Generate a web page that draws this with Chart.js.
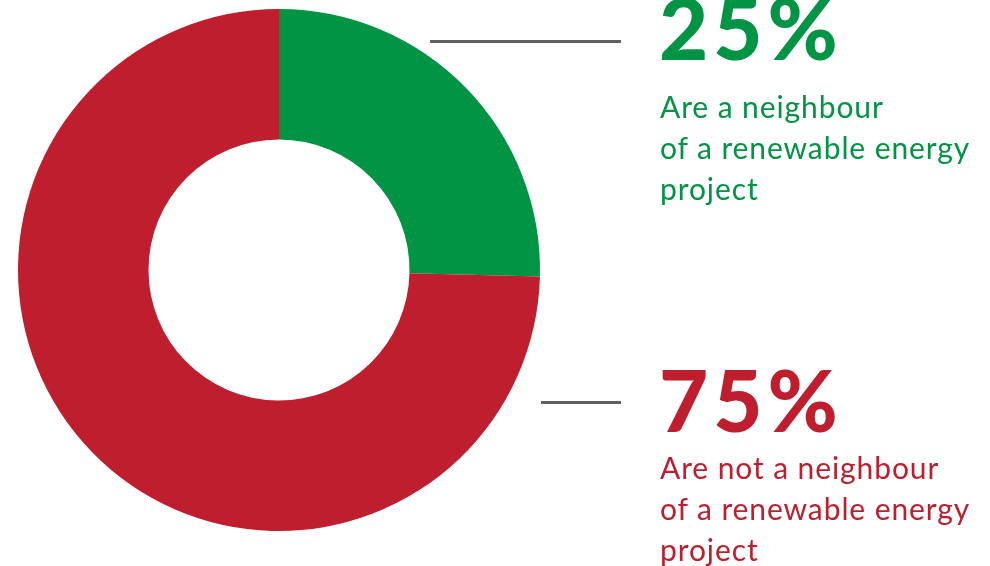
<!DOCTYPE html>
<html>
<head>
<meta charset="utf-8">
<script src="https://cdn.jsdelivr.net/npm/chart.js@4"></script>
<style>
  html, body { margin: 0; padding: 0; background: #ffffff; }
  #wrap { position: relative; width: 990px; height: 566px; overflow: hidden; }
  #chartBox { position: absolute; left: 0; top: 0; width: 990px; height: 566px; }
  .big { position: absolute; left: 659px; font-family: Lato, sans-serif; font-weight: 900; font-size: 85px; line-height: 84px; letter-spacing: 5px; white-space: nowrap; }
  .lbl { position: absolute; left: 660px; font-family: Lato, sans-serif; font-size: 30px; line-height: 41px; letter-spacing: 0.9px; white-space: nowrap; }
  .green { color: #009444; }
  .red { color: #BE1E2D; }
  .lead { position: absolute; height: 3px; background: #606060; }
</style>
</head>
<body>
<div id="wrap">
  <div id="chartBox"><canvas id="c"></canvas></div>
  <div class="lead" style="left:430px; top:40px; width:191px;"></div>
  <div class="lead" style="left:541px; top:401px; width:80px;"></div>
  <div class="big green" id="bigA" style="top:-15px;"></div>
  <div class="lbl green" id="lblA" style="top:86px;"></div>
  <div class="big red" id="bigB" style="top:357px;"></div>
  <div class="lbl red" id="lblB" style="top:447px;"></div>
</div>
<script>
const categories = ["Are a neighbour of a renewable energy project", "Are not a neighbour of a renewable energy project"];
const shares = [25.4, 74.6];
const shareLabels = ["25%", "75%"];
const labelLines = [
  ["Are a neighbour", "of a renewable energy", "project"],
  ["Are not a neighbour", "of a renewable energy", "project"]
];
const colors = ["#009444", "#BE1E2D"];

document.getElementById("bigA").textContent = shareLabels[0];
document.getElementById("bigB").textContent = shareLabels[1];
document.getElementById("lblA").innerHTML = labelLines[0].join("<br>");
document.getElementById("lblB").innerHTML = labelLines[1].join("<br>");

new Chart(document.getElementById("c"), {
  type: "doughnut",
  data: {
    labels: categories,
    datasets: [{
      data: shares,
      backgroundColor: colors,
      borderWidth: 0,
      hoverOffset: 0
    }]
  },
  options: {
    responsive: true,
    maintainAspectRatio: false,
    animation: false,
    cutout: "50%",
    layout: { padding: { left: 18, top: 9, right: 450, bottom: 35 } },
    plugins: { legend: { display: false }, tooltip: { enabled: false } }
  }
});
</script>
</body>
</html>
